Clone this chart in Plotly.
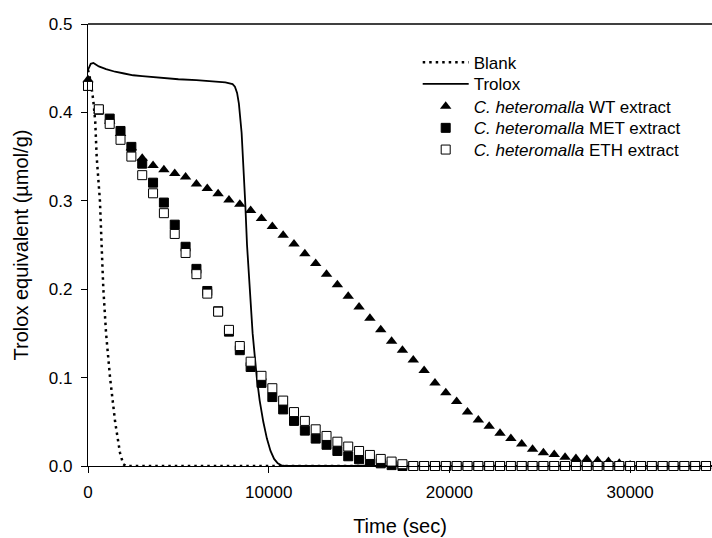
import plotly.graph_objects as go

# ---------------- data ----------------
sample_time = [i * 600 for i in range(58)]  # seconds

wt_extract = [0.437, 0.402, 0.390, 0.376, 0.360, 0.348, 0.340, 0.335, 0.331, 0.327,
              0.319, 0.314, 0.308, 0.301, 0.296, 0.289, 0.280, 0.271, 0.261, 0.251,
              0.240, 0.229, 0.217, 0.205, 0.192, 0.180, 0.167, 0.154, 0.141, 0.131,
              0.120, 0.108, 0.094, 0.083, 0.073, 0.061, 0.052, 0.045, 0.037, 0.031,
              0.025, 0.019, 0.015, 0.013, 0.010, 0.0085, 0.0075, 0.006, 0.005, 0.003,
              0.001, 0, 0, 0, 0, 0, 0, 0]

met_extract = [0.430, 0.403, 0.393, 0.379, 0.361, 0.342, 0.3205, 0.298, 0.273, 0.248,
               0.223, 0.198, 0.175, 0.152, 0.131, 0.112, 0.094, 0.078, 0.064, 0.051,
               0.040, 0.031, 0.024, 0.017, 0.011, 0.0076, 0.005, 0.003, 0.001, 0,
               0, 0, 0, 0, 0, 0, 0, 0, 0, 0, 0, 0, 0, 0, 0, 0, 0, 0, 0, 0,
               0, 0, 0, 0, 0, 0, 0, 0]

eth_extract = [0.430, 0.4035, 0.387, 0.369, 0.350, 0.329, 0.3085, 0.286, 0.2625, 0.241,
               0.217, 0.195, 0.1746, 0.154, 0.1357, 0.118, 0.102, 0.088, 0.074, 0.061,
               0.051, 0.0415, 0.034, 0.0275, 0.022, 0.017, 0.0125, 0.008, 0.005, 0.002,
               0, 0, 0, 0, 0, 0, 0, 0, 0, 0, 0, 0, 0, 0, 0, 0, 0, 0, 0, 0,
               0, 0, 0, 0, 0, 0, 0, 0]

blank_time = [0, 150, 290, 400, 480, 560, 660, 800, 850, 1000, 1220, 1500, 1650, 1770,
              1950, 2100, 34600]
blank_value = [0.448, 0.435, 0.414, 0.390, 0.350, 0.330, 0.300, 0.225, 0.200, 0.150,
               0.100, 0.050, 0.030, 0.015, 0.002, 0, 0]

trolox_time = [0, 150, 300, 600, 1000, 1500, 2000, 2500, 3000, 4000, 5000, 6000, 7000,
               7600, 8000, 8130, 8250, 8350, 8500, 8600, 8700, 8800, 8900, 8970, 9110,
               9340, 9500, 9700, 9900, 10100, 10300, 10500, 10700, 10900, 34600]
trolox_value = [0.448, 0.455, 0.456, 0.452, 0.449, 0.446, 0.444, 0.442, 0.441, 0.439,
                0.4375, 0.4365, 0.435, 0.434, 0.432, 0.429, 0.422, 0.410, 0.377, 0.340,
                0.298, 0.250, 0.218, 0.200, 0.150, 0.100, 0.074, 0.050, 0.031, 0.017,
                0.008, 0.003, 0.0008, 0, 0]

x_ticks = [0, 10000, 20000, 30000]
y_ticks = [0.0, 0.1, 0.2, 0.3, 0.4, 0.5]

FONT = "Liberation Sans, Arial, sans-serif"

# plot-area geometry (px) used to place the one-item legends
W, H = 712, 538
ML, MR, MT, MB = 88, 0, 24, 72
PH = H - MT - MB
legend_row_centers = [62.7, 84.3, 106.7, 128.3, 150.0]
legend_names = ["legend", "legend2", "legend3", "legend4", "legend5"]

fig = go.Figure()
fig.add_trace(go.Scatter(x=blank_time, y=blank_value, mode="lines", name="Blank",
                         legend="legend",
                         line=dict(color="black", width=2.5, dash="2.5px,4px")))
fig.add_trace(go.Scatter(x=trolox_time, y=trolox_value, mode="lines", name="Trolox",
                         legend="legend2",
                         line=dict(color="black", width=1.8)))
fig.add_trace(go.Scatter(x=sample_time, y=wt_extract, mode="markers",
                         name="<i>C. heteromalla</i> WT extract", cliponaxis=False,
                         legend="legend3",
                         marker=dict(symbol="triangle-up", size=10, color="black",
                                     line=dict(width=0))))
fig.add_trace(go.Scatter(x=sample_time, y=met_extract, mode="markers",
                         name="<i>C. heteromalla</i> MET extract", cliponaxis=False,
                         legend="legend4",
                         marker=dict(symbol="square", size=9, color="black",
                                     line=dict(color="black", width=1))))
fig.add_trace(go.Scatter(x=sample_time, y=eth_extract, mode="markers",
                         name="<i>C. heteromalla</i> ETH extract", cliponaxis=False,
                         legend="legend5",
                         marker=dict(symbol="square", size=9, color="white",
                                     line=dict(color="black", width=1))))

legend_x = (472.7 - 55 - ML) / (W - ML - MR)
legend_layout = {}
for name, c in zip(legend_names, legend_row_centers):
    top = c - 18
    legend_layout[name] = dict(
        x=legend_x, y=1 - (top - MT) / PH, xanchor="left", yanchor="top",
        bgcolor="rgba(0,0,0,0)", borderwidth=0,
        font=dict(family=FONT, size=17, color="black"), itemwidth=46)

fig.update_layout(
    width=W, height=H,
    margin=dict(l=ML, r=MR, t=MT, b=MB),
    paper_bgcolor="white", plot_bgcolor="white",
    font=dict(family=FONT, size=17, color="black"),
    showlegend=True,
    xaxis=dict(range=[0, 34530], tickvals=x_ticks, ticktext=[str(v) for v in x_ticks],
               showgrid=False, zeroline=False, showline=True, linecolor="black",
               linewidth=1.3, ticks="outside", ticklen=6, tickcolor="black",
               tickwidth=1.3, tickfont=dict(size=17), ticklabelstandoff=4,
               title=dict(text="Time (sec)", font=dict(size=20), standoff=18)),
    yaxis=dict(range=[0, 0.5], tickvals=y_ticks, ticktext=[f"{v:.1f}" for v in y_ticks],
               showgrid=False, zeroline=False, showline=True, linecolor="black",
               linewidth=1.3, ticks="outside", ticklen=6, tickcolor="black",
               tickwidth=1.3, tickfont=dict(size=17), ticklabelstandoff=5,
               title=dict(text="Trolox equivalent (µmol/g)", font=dict(size=20),
                          standoff=14)),
    shapes=[dict(type="line", xref="paper", yref="paper", x0=0, x1=1, y0=1, y1=1,
                 line=dict(color="black", width=1.3))],
    **legend_layout,
)

fig.write_html("out.html")
